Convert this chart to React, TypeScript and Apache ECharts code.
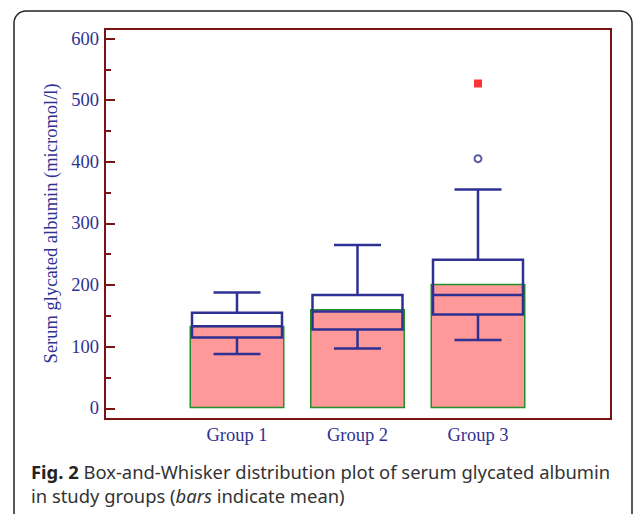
import React, { useEffect, useRef } from "react";
import * as echarts from "echarts";

const categories = ["Group 1", "Group 2", "Group 3"];
// mean values (bars)
const means = [134, 161, 202];
// box-and-whisker: [low whisker, Q1, median, Q3, high whisker]
const boxes = [
  [88, 115, 133, 155, 188],
  [97, 128, 157, 184, 265],
  [111, 152, 184, 241, 355],
];
// outliers: [categoryIndex, value]
const outsideValues = [[2, 405]];
const farOutValues = [[2, 527]];
const yTicks = { min: 0, max: 600, interval: 100, minorInterval: 50 };

const NAVY = "#2E3192";
const MAROON = "#7A1414";
const SERIF = "Liberation Serif";
const SANS = "Noto Sans";
const CAP = 18.4;

export default function App() {
  const ref = useRef<HTMLDivElement>(null);
  useEffect(() => {
    document.body.style.margin = "0";
    const chart = echarts.init(ref.current!, undefined, { renderer: "svg" });
    const boxData = boxes.map((b, i) => [i, ...b]);
    chart.setOption({
      animation: false,
      grid: { left: 176.75, right: 94.75, top: 38.5, bottom: 105.7 },
      xAxis: {
        type: "category",
        data: categories,
        axisLine: { show: false },
        axisTick: { show: false },
        axisLabel: { margin: 17, color: NAVY, fontFamily: SERIF, fontSize: 18.5 },
      },
      yAxis: [
        {
          type: "value",
          position: "left",
          min: yTicks.min,
          max: yTicks.max,
          interval: yTicks.interval,
          offset: 71.75,
          name: "Serum glycated albumin (micromol/l)",
          nameLocation: "middle",
          nameGap: 45,
          nameTextStyle: { color: NAVY, fontFamily: SERIF, fontSize: 18.5 },
          axisLine: { show: false },
          axisTick: { show: true, inside: true, length: 10, lineStyle: { color: MAROON, width: 2 } },
          splitLine: { show: false },
          axisLabel: { margin: 6, color: NAVY, fontFamily: SERIF, fontSize: 18.5 },
        },
        {
          type: "value",
          position: "left",
          min: yTicks.min,
          max: yTicks.max,
          interval: yTicks.minorInterval,
          offset: 71.75,
          axisLine: { show: false },
          axisTick: { show: true, inside: true, length: 6, lineStyle: { color: MAROON, width: 2 } },
          splitLine: { show: false },
          axisLabel: { show: false },
        },
      ],
      graphic: [
        {
          type: "rect",
          shape: { x: 14, y: 11, width: 618, height: 560, r: 12 },
          style: { fill: "none", stroke: "#222", lineWidth: 1.5 },
          z: 0,
        },
        {
          type: "rect",
          shape: { x: 105, y: 29, width: 506, height: 390 },
          style: { fill: "none", stroke: MAROON, lineWidth: 2 },
          z: 10,
        },
        {
          type: "text",
          x: 31,
          y: 459,
          style: {
            text:
              "{b|Fig. 2} Box-and-Whisker distribution plot of serum glycated albumin\nin study groups ({i|bars} indicate mean)",
            fontFamily: SANS,
            fontSize: CAP,
            lineHeight: 24,
            fill: "#333",
            verticalAlign: "top",
            rich: {
              b: { fontFamily: SANS, fontSize: CAP, fontWeight: "bold", fill: "#222", lineHeight: 24 },
              i: { fontFamily: SANS, fontSize: CAP, fontStyle: "italic", fill: "#333", lineHeight: 24 },
            },
          },
        },
      ],
      series: [
        {
          type: "bar",
          data: means,
          barWidth: 95,
          itemStyle: { color: "#FF9999", borderColor: "#23902A", borderWidth: 1.5 },
          z: 2,
        },
        {
          type: "custom",
          data: boxData,
          encode: { x: 0, y: [1, 2, 3, 4, 5] },
          z: 3,
          renderItem: (params: any, api: any) => {
            const x = api.value(0);
            const low = api.coord([x, api.value(1)]);
            const q1 = api.coord([x, api.value(2)]);
            const med = api.coord([x, api.value(3)]);
            const q3 = api.coord([x, api.value(4)]);
            const high = api.coord([x, api.value(5)]);
            const cx = low[0];
            const bw = 90;
            const cw = 47;
            const st = { stroke: NAVY, lineWidth: 2.5, fill: "none" };
            return {
              type: "group",
              children: [
                { type: "rect", shape: { x: cx - bw / 2, y: q3[1], width: bw, height: q1[1] - q3[1] }, style: st },
                { type: "line", shape: { x1: cx - bw / 2, y1: med[1], x2: cx + bw / 2, y2: med[1] }, style: st },
                { type: "line", shape: { x1: cx, y1: q3[1], x2: cx, y2: high[1] }, style: st },
                { type: "line", shape: { x1: cx, y1: q1[1], x2: cx, y2: low[1] }, style: st },
                { type: "line", shape: { x1: cx - cw / 2, y1: high[1], x2: cx + cw / 2, y2: high[1] }, style: st },
                { type: "line", shape: { x1: cx - cw / 2, y1: low[1], x2: cx + cw / 2, y2: low[1] }, style: st },
              ],
            };
          },
        },
        {
          type: "scatter",
          data: outsideValues,
          symbol: "emptyCircle",
          symbolSize: 7,
          itemStyle: { color: NAVY, borderColor: NAVY, borderWidth: 1 },
          z: 4,
        },
        {
          type: "scatter",
          data: farOutValues,
          symbol: "rect",
          symbolSize: 8,
          itemStyle: { color: "#FF0000" },
          z: 4,
        },
      ],
    });
    return () => chart.dispose();
  }, []);
  return <div ref={ref} style={{ width: 633, height: 514 }} />;
}
